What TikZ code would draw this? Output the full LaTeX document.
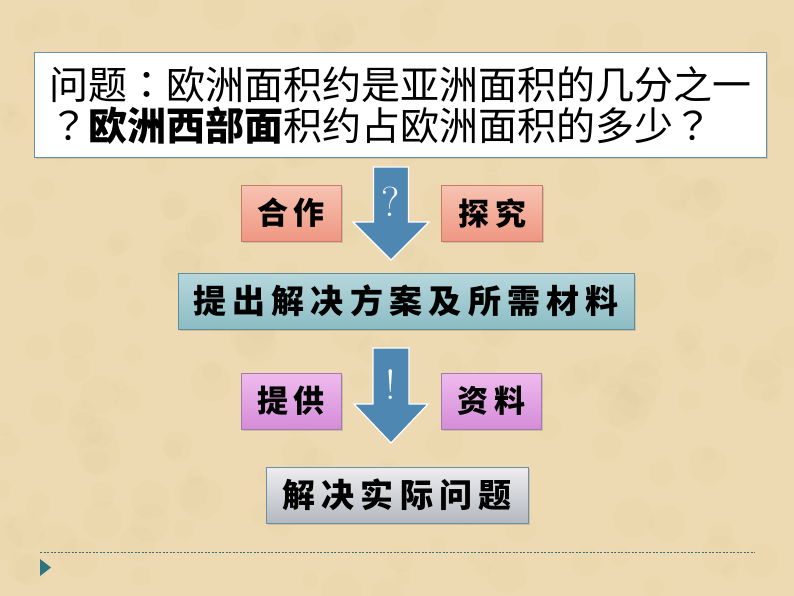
\documentclass[tikz,border=0pt]{standalone}
\usepackage{fontspec}
\usetikzlibrary{positioning,calc,shadows}
\newfontfamily\cjk{Noto Sans CJK SC}
\newfontfamily\cjkpunct{Noto Sans CJK TC}
\newfontfamily\cjkwide[LetterSpace=19]{Noto Sans CJK SC}
\definecolor{bgPaper}{HTML}{EDDAB2}
\definecolor{bgSpot}{HTML}{D9C092}
\definecolor{qBorder}{HTML}{6A8FA3}
\definecolor{arrowBlue}{HTML}{4F87B3}
\definecolor{salmonTop}{HTML}{F8C3B2}
\definecolor{salmonBot}{HTML}{EE9782}
\definecolor{salmonEdge}{HTML}{C97A68}
\definecolor{tealTop}{HTML}{B6D7DC}
\definecolor{tealBot}{HTML}{8DBCC4}
\definecolor{tealEdge}{HTML}{5F8E9A}
\definecolor{violetTop}{HTML}{EEBBEE}
\definecolor{violetBot}{HTML}{D58CD8}
\definecolor{violetEdge}{HTML}{A07AAE}
\definecolor{grayTop}{HTML}{EEEEF0}
\definecolor{grayBot}{HTML}{B3B8BF}
\definecolor{grayEdge}{HTML}{6B8FA6}
\definecolor{lineTeal}{HTML}{3D6E78}
\definecolor{triTeal}{HTML}{2B7580}

\begin{document}
\begin{tikzpicture}[x=1pt,y=-1pt,
    card/.style={draw=#1Edge,line width=0.8pt,top color=#1Top,bottom color=#1Bot,
      minimum height=56pt,inner sep=0pt,
      drop shadow={opacity=0.3,shadow xshift=1.5pt,shadow yshift=-1.5pt},
      font=\cjkwide\bfseries\fontsize{31}{34}\selectfont},
    blockarrow/.style={draw=white,line width=1.2pt,fill=arrowBlue,line join=miter},
    signtext/.style={text=white,font=\fontsize{42}{42}\selectfont}]
  % paper
  \fill[bgPaper] (0,0) rectangle (794,596);
  \useasboundingbox (0,0) rectangle (794,596);
  \pgfmathsetseed{7}
  \foreach \i in {1,...,220}
    \fill[bgSpot,opacity=0.07] (rnd*794,rnd*596) circle (6+rnd*16);

  \node[draw=qBorder,line width=1pt,fill=white,minimum width=732pt,minimum height=105pt,
    inner sep=0pt,align=left,font=\cjk\fontsize{39}{41.5}\selectfont,
    drop shadow={opacity=0.25,shadow xshift=1.5pt,shadow yshift=-1.5pt}] (question) at (400,105.5)
    {问题{\cjkpunct ：}欧洲面积约是亚洲面积的几分之一\\{\cjkpunct ？}{\bfseries 欧洲西部面}积约占欧洲面积的多少{\cjkpunct ？}};

  \coordinate (arrA) at (391,167);
  \draw[blockarrow] (arrA) ++(-17.5,0) -- ++(0,55) -- ++(-20.5,0) -- ++(38,38) -- ++(38,-38)
    -- ++(-20.5,0) -- ++(0,-55) -- cycle;
  \node[signtext] (qmark) at ($(arrA)+(0,35)$) {?};
  \node[card=salmon,minimum width=100pt] (coop) at (291,213) {合作};
  \node[card=salmon,minimum width=101pt,right=100pt of coop] (explore) {探究};

  \node[card=teal,minimum width=456pt,font=\cjkwide\bfseries\fontsize{33}{36}\selectfont] (plan) at (406,301)
    {提出解决方案及所需材料};

  \coordinate (arrB) at (391,348);
  \draw[blockarrow] (arrB) ++(-18,0) -- ++(0,56) -- ++(-19,0) -- ++(37,39) -- ++(37,-39)
    -- ++(-19,0) -- ++(0,-56) -- cycle;
  \node[signtext] (bang) at ($(arrB)+(0,37)$) {!};
  \node[card=violet,minimum width=100pt] (provide) at (291,401) {提供};
  \node[card=violet,minimum width=100pt,right=100pt of provide] (data) {资料};

  \node[card=gray,minimum width=262pt,font=\cjkwide\bfseries\fontsize{33}{36}\selectfont] (solve) at (397,495)
    {解决实际问题};

  % footer
  \coordinate (ruleL) at (40,552);
  \coordinate (ruleR) at (755,552);
  \draw[lineTeal,line width=0.6pt,dash pattern=on 2pt off 1.5pt] (ruleL) -- (ruleR);
  \fill[triTeal] (40,559) -- (51,567.5) -- (40,576) -- cycle;
\end{tikzpicture}
\end{document}
